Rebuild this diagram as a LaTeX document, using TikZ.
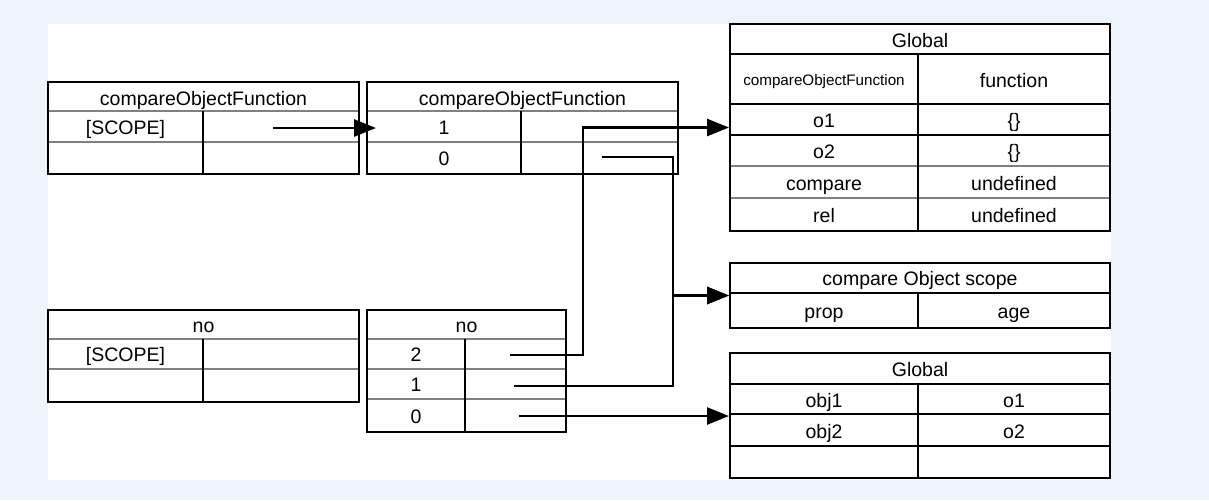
\documentclass[tikz,border=0pt]{standalone}
\usepackage{fontspec}
\setmainfont{Liberation Sans}
\usetikzlibrary{fit, arrows.meta}
\definecolor{pagebg}{RGB}{239,244,252}
\definecolor{rulegray}{RGB}{128,128,128}
\tikzset{
  frame/.style={draw, line width=1pt, inner sep=0pt, fit={#1}},
  cell/.style={font=\fontsize{9.75}{11}\selectfont, inner sep=0pt, text height=7pt, text depth=0pt},
  tiny/.style={font=\fontsize{7.6}{9}\selectfont, inner sep=0pt, text height=5.4pt, text depth=0pt},
  hrule/.style={draw=rulegray, line width=1.2pt},
  brule/.style={draw=black, line width=1pt},
  ptr/.style={line width=1.3pt, -{Triangle[length=11pt, width=8.5pt]}},
}
\begin{document}
\begin{tikzpicture}[x=0.5pt, y=-0.5pt]
    \fill[pagebg](0, 0)rectangle(1209, 500);
    \fill[white](48, 24)rectangle(1111, 480);
    % inner rules
    \draw[hrule](48, 111)--(359, 111) (48, 142)--(359, 142);
    \draw[hrule](367, 111)--(678, 111) (367, 142)--(678, 142);
    \draw[hrule](48, 339)--(359, 339) (48, 369)--(359, 369);
    \draw[hrule](367, 339)--(566, 339) (367, 369)--(566, 369) (367, 399)--(566, 399);
    \draw[brule](730, 54)--(1110, 54) (730, 104)--(1110, 104) (730, 135)--(1110, 135);
    \draw[hrule](730, 166)--(1110, 166) (730, 198)--(1110, 198);
    \draw[brule](730, 293)--(1110, 293);
    \draw[brule](730, 384)--(1110, 384) (730, 414)--(1110, 414) (730, 446)--(1110, 446);
    \draw[brule](203, 111)--(203, 174) (521, 111)--(521, 174);
    \draw[brule](203, 339)--(203, 402) (465, 339)--(465, 432);
    \draw[brule](918, 54)--(918, 231) (918, 293)--(918, 328) (918, 384)--(918, 478);
    % tables
    \node[frame={(48, 82)(359, 174)}](cofA){};
    \node[frame={(367, 82)(678, 174)}](cofB){};
    \node[frame={(730, 24)(1110, 231)}](gA){};
    \node[frame={(730, 263)(1110, 328)}](scope){};
    \node[frame={(730, 353)(1110, 478)}](gB){};
    \node[frame={(48, 310)(359, 402)}](noA){};
    \node[frame={(367, 310)(566, 432)}](noB){};
    % texts
    \node[cell](cofA-h)at(203.5, 98){compareObjectFunction};
    \node[cell](cofA-k)at(125.5, 127){[SCOPE]};
    \node[cell](cofB-h)at(522.5, 98){compareObjectFunction};
    \node[cell](cofB-k1)at(444, 127){1};
    \node[cell](cofB-k0)at(444, 158){0};
    \node[cell](gA-h)at(920, 40){Global};
    \node[tiny](gA-k0)at(824, 80){compareObjectFunction};
    \node[cell](gA-v0)at(1014, 80){function};
    \foreach \n/\k/\v/\y in {1/o1/\{\}/120, 2/o2/\{\}/151, 3/compare/undefined/183, 4/rel/undefined/215}{
        \node[cell](gA-k\n)at(824, \y){\k};
        \node[cell](gA-v\n)at(1014, \y){\v};
    }
    \node[cell](scope-h)at(920, 278.5){compare Object scope};
    \node[cell](scope-k)at(824, 311){prop};
    \node[cell](scope-v)at(1014, 311){age};
    \node[cell](gB-h)at(920, 369){Global};
    \node[cell](gB-k1)at(824, 400){obj1};
    \node[cell](gB-v1)at(1014, 400){o1};
    \node[cell](gB-k2)at(824, 431){obj2};
    \node[cell](gB-v2)at(1014, 431){o2};
    \node[cell](noA-h)at(203.5, 325){no};
    \node[cell](noA-k)at(125.5, 354.5){[SCOPE]};
    \node[cell](noB-h)at(466.5, 325){no};
    \node[cell](noB-k2)at(416, 354.5){2};
    \node[cell](noB-k1)at(416, 384.5){1};
    \node[cell](noB-k0)at(416, 416){0};
    % pointers
    \coordinate(cofA-s)at(273, 128);
    \coordinate(cofB-s0)at(602, 157);
    \coordinate(noB-s2)at(510, 355);
    \coordinate(noB-s1)at(514, 386);
    \coordinate(noB-s0)at(519, 416);
    \draw[ptr](cofA-s)--([xshift=5pt]cofB.west);
    \draw[ptr](noB-s2)--++(73, 0)|-(gA.west);
    \draw[ptr](cofB-s0)--++(71, 0)|-(scope.west);
    \draw[ptr](noB-s1)--++(159, 0)|-(scope.west);
    \draw[ptr](noB-s0)--(noB-s0 -| gB.west);
\end{tikzpicture}
\end{document}
